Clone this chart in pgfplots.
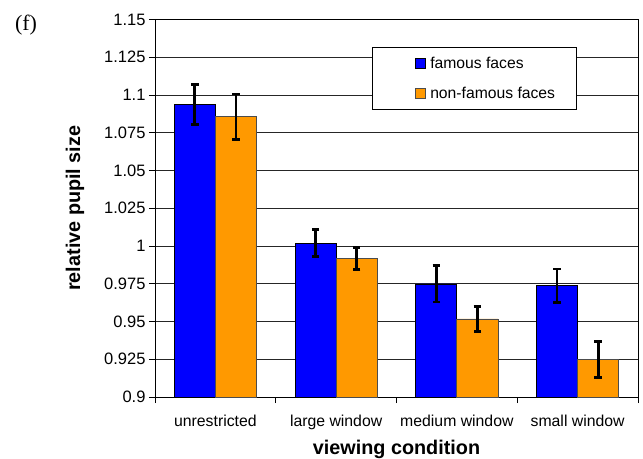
\documentclass[border=0pt]{standalone}
\usepackage{fontspec}
\setmainfont{Liberation Sans}
\newfontfamily\timesfont{Liberation Serif}
\usepackage{pgfplots}
\pgfplotsset{compat=1.18}
\definecolor{barblue}{RGB}{0,0,255}
\definecolor{barorange}{RGB}{255,153,0}
\begin{document}
\begin{tikzpicture}
\useasboundingbox (-155bp,-62bp) rectangle (488bp,397bp);
\begin{axis}[
  at={(0,0)}, anchor=south west,
  scale only axis, width=483bp, height=377.5bp,
  xmin=-0.5, xmax=3.5, ymin=0.9, ymax=1.15,
  ytick={0.9,0.925,0.95,0.975,1,1.025,1.05,1.075,1.1,1.125,1.15},
  /pgf/number format/assume math mode=true,
  yticklabel style={/pgf/number format/fixed, /pgf/number format/precision=3,
    font=\fontsize{16.5bp}{19bp}\selectfont},
  xtick={0,1,2,3},
  xticklabels={unrestricted, large window, medium window, small window},
  xticklabel style={font=\fontsize{15.8bp}{19bp}\selectfont, yshift=-9bp},
  minor xtick={-0.5,0.5,1.5,2.5,3.5},
  major x tick style={draw=none},
  minor x tick style={draw=black, line width=0.8bp},
  major y tick style={draw=black, line width=0.8bp},
  major tick length=6bp, minor tick length=6bp,
  tick align=outside,
  xtick pos=left, ytick pos=left,
  ymajorgrids, major grid style={black!85, line width=0.8bp},
  axis line style={black, line width=0.8bp},
  xlabel={viewing condition},
  ylabel={relative pupil size},
  xlabel style={font=\bfseries\fontsize{19.8bp}{22bp}\selectfont,
    at={(rel axis cs:0.5,0)}, anchor=center, yshift=-52bp},
  ylabel style={font=\bfseries\fontsize{19.8bp}{22bp}\selectfont,
    at={(rel axis cs:0,0.5)}, anchor=center, yshift=80bp},
  legend style={at={(rel axis cs:0.449,0.927)}, anchor=north west,
    draw=black, line width=0.8bp, fill=white,
    font=\fontsize{15.7bp}{18bp}\selectfont,
    inner xsep=19bp, inner ysep=7.5bp, row sep=13.5bp},
  legend cell align=left,
  mylegend/.style={legend image code/.code={%
    \path[draw=none, fill=none] (-24bp,-5bp) rectangle (13bp,5bp);
    \draw[##1, line width=0.6bp] (0bp,-5bp) rectangle (10bp,5bp);}},
]
\addplot[ybar, bar width=0.34, bar shift=0pt, fill=barblue, draw=black, line width=0.8bp, mylegend,
  error bars/.cd, y dir=both, y explicit,
  error bar style={line width=2.8bp, black},
  error mark options={rotate=90, mark size=3.8bp, line width=2.8bp, black}]
  coordinates {
  (-0.17,1.0937) +- (0,0.013)
  (0.83,1.0018) +- (0,0.009)
  (1.83,0.9749) +- (0,0.012)
  (2.83,0.9738) +- (0,0.011)
  };
\addlegendentry{famous faces}
\addplot[ybar, bar width=0.34, bar shift=0pt, fill=barorange, draw=black!70, line width=0.8bp, mylegend,
  error bars/.cd, y dir=both, y explicit,
  error bar style={line width=2.8bp, black},
  error mark options={rotate=90, mark size=3.8bp, line width=2.8bp, black}]
  coordinates {
  (0.17,1.0856) +- (0,0.015)
  (1.17,0.9917) +- (0,0.0073)
  (2.17,0.9517) +- (0,0.0082)
  (3.17,0.9250) +- (0,0.012)
  };
\addlegendentry{non-famous faces}
\end{axis}
\node[font=\timesfont\fontsize{22bp}{24bp}\selectfont] at (-129bp,372bp) {(f)};
\end{tikzpicture}
\end{document}
